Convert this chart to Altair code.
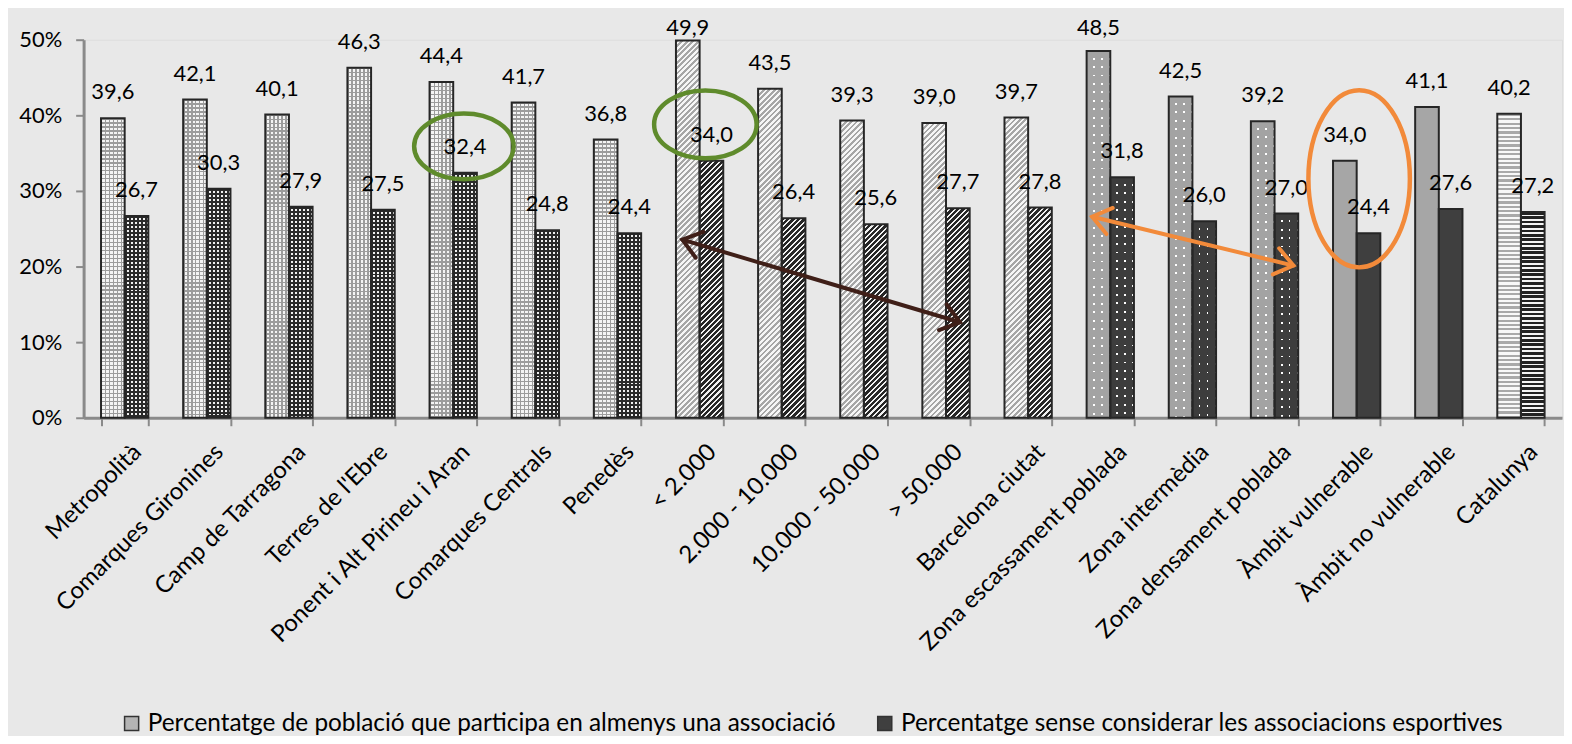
import math
import altair as alt
import pandas as pd

# ---------------- data ----------------
categories = [
    "Metropolità", "Comarques Gironines", "Camp de Tarragona", "Terres de l'Ebre",
    "Ponent i Alt Pirineu i Aran", "Comarques Centrals", "Penedès", "< 2.000",
    "2.000 - 10.000", "10.000 - 50.000", "> 50.000", "Barcelona ciutat",
    "Zona escassament poblada", "Zona  intermèdia", "Zona densament poblada",
    "Àmbit vulnerable", "Àmbit no vulnerable", "Catalunya",
]
series_names = [
    "Percentatge de població que participa en almenys una associació",
    "Percentatge sense considerar les associacions esportives",
]
values_total = [39.6, 42.1, 40.1, 46.3, 44.4, 41.7, 36.8, 49.9, 43.5, 39.3, 39.0, 39.7,
                48.5, 42.5, 39.2, 34.0, 41.1, 40.2]
values_no_sport = [26.7, 30.3, 27.9, 27.5, 32.4, 24.8, 24.4, 34.0, 26.4, 25.6, 27.7, 27.8,
                   31.8, 26.0, 27.0, 24.4, 27.6, 27.2]
pattern_group = ["checker"] * 7 + ["diag"] * 5 + ["dots"] * 3 + ["solid"] * 2 + ["hstripe"]

# annotations (x in category units 0..18, y in %)
ellipse_x = [4.63, 7.57, 15.53]
ellipse_y = [35.9, 38.8, 31.6]
ellipse_w = [100, 103, 102]
ellipse_h = [66, 68, 178]
ellipse_color = ["#5f8b2c", "#5f8b2c", "#f28a3a"]

arrow_x1 = [7.29, 12.28]
arrow_y1 = [23.55, 26.58]
arrow_x2 = [10.67, 14.73]
arrow_y2 = [12.63, 20.13]
arrow_color = ["#3f1f18", "#f28a3a"]

# ---------------- layout ----------------
W, H = 1486, 380
Y_MAX = 50
N = len(categories)
P_INNER = 0.424
ppy = H / Y_MAX
ppx = W / N
bar_w = ppx * (1 - P_INNER) / 2
FONT = "Lato"

rows = []
for i, c in enumerate(categories):
    for s, vals in (("A", values_total), ("B", values_no_sport)):
        rows.append({"idx": i, "cat": c, "s": s, "v": vals[i], "grp": pattern_group[i],
                     "name": series_names[0] if s == "A" else series_names[1]})
df = pd.DataFrame(rows)

X = alt.X("cat:N", scale=alt.Scale(domain=categories, paddingInner=P_INNER, paddingOuter=P_INNER / 2),
          sort=categories,
          axis=alt.Axis(title=None, labelAngle=-45, labelAlign="right", labelBaseline="top",
                        tickBand="extent", tickSize=8, tickWidth=2,
                        tickColor="#8a8a8a", domainColor="#8a8a8a", domainWidth=3,
                        labelFont=FONT, labelFontSize=24, labelColor="#000000", labelPadding=14,
                        labelOffset=4, labelLimit=400, grid=False))
XO = alt.XOffset("s:N", scale=alt.Scale(domain=["A", "B"]))
Y = alt.Y("v:Q", scale=alt.Scale(domain=[0, Y_MAX], nice=False),
          axis=alt.Axis(title=None, values=[0, 10, 20, 30, 40, 50], labelExpr="datum.value + '%'",
                        tickSize=8, tickWidth=2, tickColor="#8a8a8a", domainColor="#8a8a8a",
                        domainWidth=3, labelFont=FONT, labelFontSize=22, labelColor="#000000",
                        labelPadding=14, grid=False))


def band_stops(total, period, frac, c_on, c_off):
    out = []
    pos = 0.0
    while pos < total - 1e-6:
        a = pos / total
        b = min((pos + frac * period) / total, 1.0)
        c = min((pos + period) / total, 1.0)
        out += [(a, c_on), (b, c_on), (b, c_off), (c, c_off)]
        pos += period
    return [alt.GradientStop(color=col, offset=round(o, 5)) for o, col in out]


def hgrad(h, period, frac, c_on, c_off):
    return alt.LinearGradient(gradient="linear", x1=0, y1=0, x2=0, y2=1,
                              stops=band_stops(h, period, frac, c_on, c_off))


def vgrad(w, period, frac, c_on, c_off):
    return alt.LinearGradient(gradient="linear", x1=0, y1=0, x2=1, y2=0,
                              stops=band_stops(w, period, frac, c_on, c_off))


def dgrad(w, h, period, frac, c_on, c_off):
    k = (w + h) / (w * w + h * h)
    return alt.LinearGradient(gradient="linear", x1=0, y1=0, x2=round(w * k, 6), y2=round(h * k, 6),
                              stops=band_stops(w + h, period, frac, c_on, c_off))


base_style = {
    ("checker", "A"): ("h", 4.0, 0.35, "#9c9c9c", "#f4f4f4"),
    ("checker", "B"): ("h", 4.0, 0.5, "#2a2a2a", "#f0f0f0"),
    ("diag", "A"): ("d", 5.5, 0.5, "#a6a6a6", "#f6f6f6"),
    ("diag", "B"): ("d", 5.5, 0.62, "#262626", "#f0f0f0"),
    ("dots", "A"): ("h", 8.5, 0.78, "#a3a3a3", "#ffffff"),
    ("dots", "B"): ("h", 8.5, 0.78, "#3d3d3d", "#ffffff"),
    ("hstripe", "A"): ("h", 4.4, 0.5, "#a9a9a9", "#f8f8f8"),
    ("hstripe", "B"): ("h", 4.4, 0.6, "#222222", "#f4f4f4"),
}
solid_color = {"A": "#a6a6a6", "B": "#3f3f3f"}
overlay_style = {
    ("checker", "A"): (4.0, 0.35, "#9c9c9c"),
    ("checker", "B"): (4.0, 0.5, "#2a2a2a"),
    ("dots", "A"): (8.0, 0.78, "#a3a3a3"),
    ("dots", "B"): (8.0, 0.78, "#3d3d3d"),
}

bar_layers = []
for _, r in df.iterrows():
    h = r["v"] * ppy
    key = (r["grp"], r["s"])
    if r["grp"] == "solid":
        fill = solid_color[r["s"]]
    else:
        kind, period, frac, c_on, c_off = base_style[key]
        if kind == "h":
            fill = hgrad(h, period, frac, c_on, c_off)
        else:
            fill = dgrad(bar_w, h, period, frac, c_on, c_off)
    bar_layers.append(
        alt.Chart(df).transform_filter((alt.datum.idx == int(r["idx"])) & (alt.datum.s == r["s"]))
        .mark_bar(fill=fill, strokeWidth=0)
        .encode(x=X, xOffset=XO, y=Y)
    )

overlay_layers = []
for (grp, s), (period, frac, col) in overlay_style.items():
    overlay_layers.append(
        alt.Chart(df).transform_filter((alt.datum.grp == grp) & (alt.datum.s == s))
        .mark_bar(fill=vgrad(bar_w, period, frac, col, "rgba(255,255,255,0)"), strokeWidth=0)
        .encode(x=X, xOffset=XO, y=Y)
    )

outline = alt.Chart(df).mark_bar(fillOpacity=0, stroke="#262626", strokeWidth=2).encode(
    x=X, xOffset=XO, y=Y)

labels = alt.Chart(df).transform_calculate(
    ly="min(datum.v + 2.5, 50.66)",
    lbl="replace(format(datum.v, '.1f'), '.', ',')",
).mark_text(font=FONT, fontSize=22, baseline="alphabetic", align="center", color="#000000").encode(
    x=X, xOffset=XO, y=alt.Y("ly:Q", scale=alt.Scale(domain=[0, Y_MAX], nice=False)),
    text="lbl:N")

legend_layer = alt.Chart(df).transform_filter("false").mark_bar().encode(
    fill=alt.Fill("name:N", scale=alt.Scale(domain=series_names, range=["#b4b4b4", "#3f3f3f"]),
                  legend=alt.Legend(title=None, orient="none", legendX=36, legendY=675,
                                    direction="horizontal", symbolType="square", symbolSize=200,
                                    symbolStrokeColor="#333333", symbolStrokeWidth=1.5,
                                    labelFont=FONT, labelFontSize=24.5, labelColor="#000000",
                                    labelLimit=2000, columnPadding=36, labelOffset=4))
)

main = alt.layer(*bar_layers, *overlay_layers, outline, labels, legend_layer)

# ---------------- annotations ----------------
AX = alt.Scale(domain=[0, N], nice=False, zero=False)
AY = alt.Scale(domain=[0, Y_MAX], nice=False)

ann_layers = []
for i in range(len(ellipse_x)):
    w, h = ellipse_w[i], ellipse_h[i]
    if h <= w:
        a = h / w
        path = f"M -1 0 A 1 {a:.4f} 0 1 1 1 0 A 1 {a:.4f} 0 1 1 -1 0 Z"
        size = w * w
    else:
        a = w / h
        path = f"M 0 -1 A {a:.4f} 1 0 1 1 0 1 A {a:.4f} 1 0 1 1 0 -1 Z"
        size = h * h
    edf = pd.DataFrame({"q": [ellipse_x[i]], "y": [ellipse_y[i]]})
    ann_layers.append(
        alt.Chart(edf).mark_point(shape=path, size=size, filled=False, stroke=ellipse_color[i],
                                  strokeWidth=4.5, opacity=1)
        .encode(x=alt.X("q:Q", scale=AX, axis=None), y=alt.Y("y:Q", scale=AY, axis=None))
    )

adf = pd.DataFrame({"x1": arrow_x1, "y1": arrow_y1, "x2": arrow_x2, "y2": arrow_y2, "col": arrow_color})
for i in range(len(arrow_x1)):
    sub = adf.iloc[[i]]
    ann_layers.append(
        alt.Chart(sub).mark_rule(strokeWidth=4, color=arrow_color[i], strokeCap="round")
        .encode(x=alt.X("x1:Q", scale=AX, axis=None), x2="x2:Q",
                y=alt.Y("y1:Q", scale=AY, axis=None), y2="y2:Q")
    )
    dxp = (arrow_x2[i] - arrow_x1[i]) * ppx
    dyp = -(arrow_y2[i] - arrow_y1[i]) * ppy
    ang = math.degrees(math.atan2(dyp, dxp)) % 360
    hdf = pd.DataFrame({"q": [arrow_x2[i], arrow_x1[i]], "y": [arrow_y2[i], arrow_y1[i]],
                        "ang": [ang, (ang + 180) % 360]})
    ann_layers.append(
        alt.Chart(hdf).mark_point(shape="M -1 -0.75 L 0 0 L -1 0.75", size=1300, filled=False,
                                  stroke=arrow_color[i], strokeWidth=4, opacity=1,
                                  strokeCap="round", strokeJoin="miter")
        .encode(x=alt.X("q:Q", scale=AX, axis=None), y=alt.Y("y:Q", scale=AY, axis=None),
                angle=alt.Angle("ang:Q", scale=None))
    )

annot = alt.layer(*ann_layers)

chart = alt.layer(main, annot).resolve_scale(x="independent", y="independent").properties(
    width=W, height=H,
    autosize=alt.AutoSizeParams(type="none"),
    padding={"left": 76, "top": 30, "right": 2, "bottom": 318},
).configure_view(strokeWidth=0).configure(background="#e8e8e8")

chart.save("out.html", embed_options={"renderer": "svg", "actions": False})
